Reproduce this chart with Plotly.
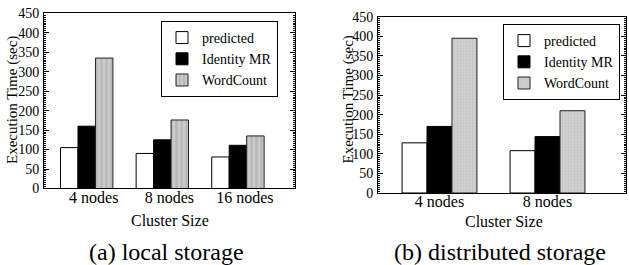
import plotly.graph_objects as go

# ---- data ----
cats_local = ["4 nodes", "8 nodes", "16 nodes"]
pred_local = [105, 90, 81]
idmr_local = [160, 125, 111]
wc_local = [335, 176, 135]

cats_dist = ["4 nodes", "8 nodes"]
pred_dist = [128, 108]
idmr_dist = [170, 144]
wc_dist = [395, 210]

y_ticks = [0, 50, 100, 150, 200, 250, 300, 350, 400, 450]

FONT = "Liberation Serif, Times New Roman, serif"
fig = go.Figure()

def add_panel(cats, pred, idmr, wc, xa, ya, leg, pattern):
    fig.add_trace(go.Bar(x=cats, y=pred, name="predicted", xaxis=xa, yaxis=ya, legend=leg,
                         marker=dict(color="white", line=dict(color="black", width=1))))
    fig.add_trace(go.Bar(x=cats, y=idmr, name="Identity MR", xaxis=xa, yaxis=ya, legend=leg,
                         marker=dict(color="black", line=dict(color="black", width=1))))
    fig.add_trace(go.Bar(x=cats, y=wc, name="WordCount", xaxis=xa, yaxis=ya, legend=leg,
                         marker=dict(color="#c4c4c4", line=dict(color="#222222", width=1),
                                     pattern=pattern)))

add_panel(cats_local, pred_local, idmr_local, wc_local, "x", "y", "legend",
          dict(shape="|", fgcolor="#a4a4a4", bgcolor="#cacaca", size=5, solidity=0.45))
add_panel(cats_dist, pred_dist, idmr_dist, wc_dist, "x2", "y2", "legend2",
          dict(shape=".", fgcolor="#b0b0b0", bgcolor="#d2d2d2", size=3, solidity=0.4))

yaxis_common = dict(
    range=[0, 450], tickvals=y_ticks, ticks="inside", ticklen=5, tickwidth=1,
    tickcolor="black", showline=True, linecolor="black", linewidth=1, mirror="ticks",
    showgrid=False, zeroline=False, tickfont=dict(family=FONT, size=14, color="black"),
    minor=dict(dtick=5, ticks="inside", ticklen=2, tickcolor="black", tickwidth=1, showgrid=False),
    ticklabelstandoff=1, automargin=False,
)
xaxis_common = dict(
    type="category", showline=True, linecolor="black", linewidth=1, mirror=True,
    ticks="", showgrid=False, zeroline=False,
    tickfont=dict(family=FONT, size=16, color="black"),
    ticklabelstandoff=-6, automargin=False,
)

legend_common = dict(
    bgcolor="white", bordercolor="black", borderwidth=1,
    font=dict(family=FONT, size=14, color="black"),
    xanchor="right", yanchor="top", itemwidth=30, tracegroupgap=0,
)

fig.update_layout(
    width=629, height=265, margin=dict(l=0, r=0, t=0, b=0, autoexpand=False),
    paper_bgcolor="white", plot_bgcolor="white",
    barmode="group", bargap=0.307, bargroupgap=0,
    font=dict(family=FONT, color="black"),
    xaxis=dict(xaxis_common, domain=[0.06995, 0.4695], range=[-0.565, 2.759],
               anchor="y", ticklabelshift=7),
    yaxis=dict(yaxis_common, domain=[0.2887, 0.9498], anchor="x"),
    xaxis2=dict(xaxis_common, domain=[0.6010, 0.9960], range=[-0.569, 1.731], anchor="y2"),
    yaxis2=dict(yaxis_common, domain=[0.2717, 0.9370], anchor="x2"),
    legend=dict(legend_common, x=278 / 629, y=0.9208),
    legend2=dict(legend_common, x=620 / 629, y=0.9094),
    showlegend=True,
)

anns = [
    dict(text="Execution Time (sec)", x=0.0199, y=0.6208, textangle=-90, size=15),
    dict(text="Execution Time (sec)", x=0.5525, y=0.6226, textangle=-90, size=15),
    dict(text="Cluster Size", x=0.2695, y=0.1698, textangle=0, size=16),
    dict(text="Cluster Size", x=0.8013, y=0.166, textangle=0, size=16),
    dict(text="(a) local storage", x=0.2647, y=0.049, textangle=0, size=24),
    dict(text="(b) distributed storage", x=0.795, y=0.049, textangle=0, size=24),
]
for a in anns:
    fig.add_annotation(text=a["text"], x=a["x"], y=a["y"], xref="paper", yref="paper",
                       xanchor="center", yanchor="middle", showarrow=False,
                       textangle=a["textangle"],
                       font=dict(family=FONT, size=a["size"], color="black"))

fig.write_html(
    "out.html",
    config={"displayModeBar": False},
    post_script="document.body.style.margin='0';document.body.style.padding='0';",
)
